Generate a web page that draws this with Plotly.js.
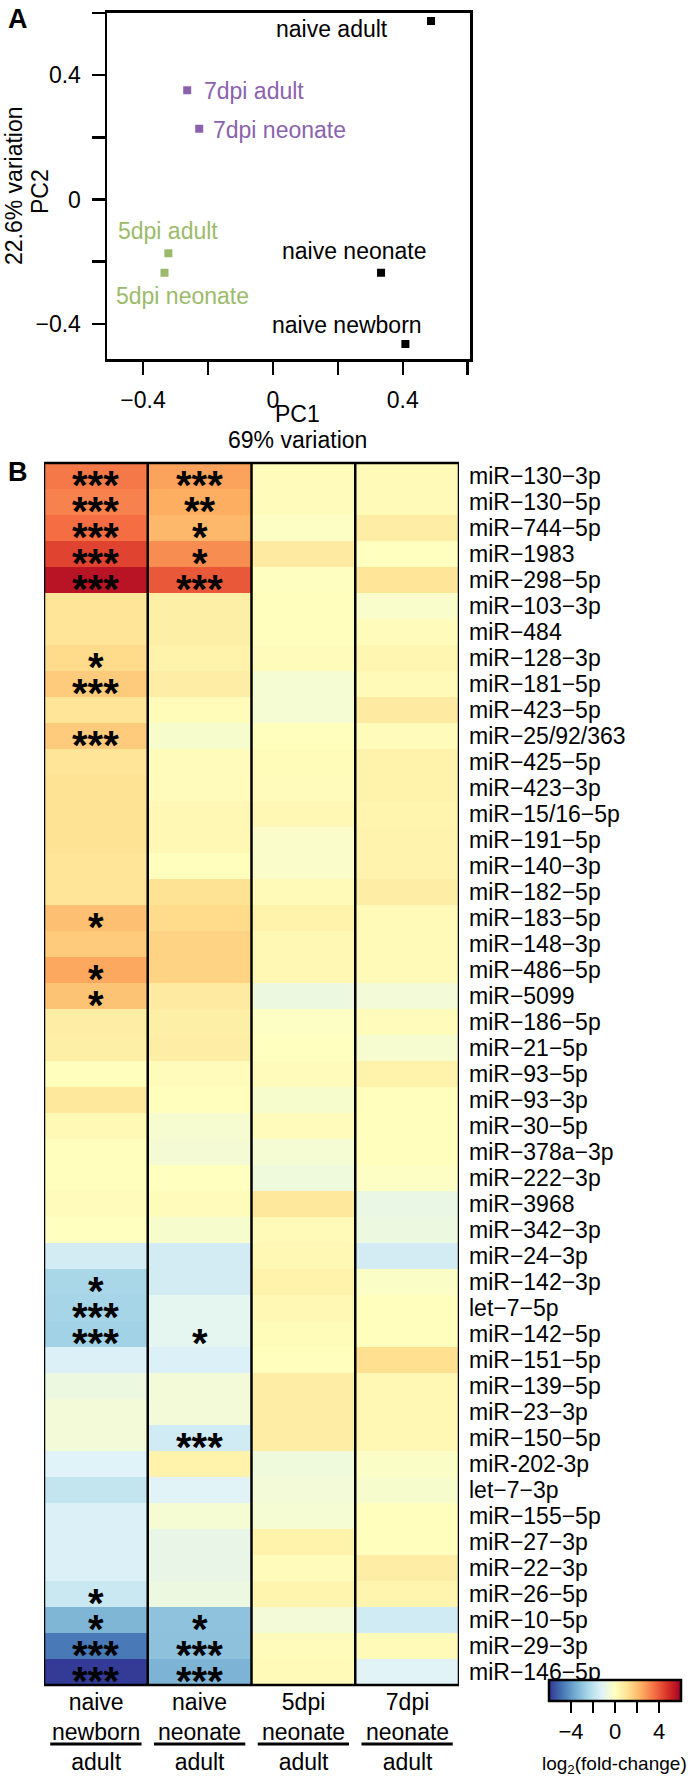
<!DOCTYPE html>
<html><head><meta charset="utf-8">
<script src="https://cdn.plot.ly/plotly-3.0.1.min.js"></script>
<style>html,body{margin:0;padding:0;background:#fff}#chart{width:693px;height:1779px}</style>
</head><body><div id="chart"></div>
<script>
const FONT = 'Liberation Sans, Arial, Helvetica, sans-serif';

// ---------- Panel A: PCA ----------
const pcaSamples = ['naive adult', '7dpi adult', '7dpi neonate', '5dpi adult', '5dpi neonate', 'naive neonate', 'naive newborn'];
const pc1 = [0.487, -0.264, -0.227, -0.322, -0.334, 0.333, 0.408];
const pc2 = [0.574, 0.351, 0.227, -0.173, -0.236, -0.236, -0.465];
const pcaGroup = ['naive', '7dpi', '7dpi', '5dpi', '5dpi', 'naive', 'naive'];
const pcaTicks = [-0.4, 0, 0.4];
const pcaTickText = ['\u22120.4', '0', '0.4'];
const pcaMinorStep = 0.2;

// label offsets (pixels) of each sample name relative to its point
const labelDX = [-99, 67, 80, 0, 18, -27, -58];
const labelDY = [-8, -1, -1, 22, -23, 22, 19];
const groupColor = {naive: '#000000', '7dpi': '#8b62ae', '5dpi': '#9bbb6b'};

// ---------- Panel B: heatmap ----------
const mirnas = ['miR\u2212130\u22123p', 'miR\u2212130\u22125p', 'miR\u2212744\u22125p', 'miR\u22121983', 'miR\u2212298\u22125p',
  'miR\u2212103\u22123p', 'miR\u2212484', 'miR\u2212128\u22123p', 'miR\u2212181\u22125p', 'miR\u2212423\u22125p',
  'miR\u221225/92/363', 'miR\u2212425\u22125p', 'miR\u2212423\u22123p', 'miR\u221215/16\u22125p', 'miR\u2212191\u22125p',
  'miR\u2212140\u22123p', 'miR\u2212182\u22125p', 'miR\u2212183\u22125p', 'miR\u2212148\u22123p', 'miR\u2212486\u22125p',
  'miR\u22125099', 'miR\u2212186\u22125p', 'miR\u221221\u22125p', 'miR\u221293\u22125p', 'miR\u221293\u22123p',
  'miR\u221230\u22125p', 'miR\u2212378a\u22123p', 'miR\u2212222\u22123p', 'miR\u22123968', 'miR\u2212342\u22123p',
  'miR\u221224\u22123p', 'miR\u2212142\u22123p', 'let\u22127\u22125p', 'miR\u2212142\u22125p', 'miR\u2212151\u22125p',
  'miR\u2212139\u22125p', 'miR\u221223\u22123p', 'miR\u2212150\u22125p', 'miR-202-3p', 'let\u22127\u22123p',
  'miR\u2212155\u22125p', 'miR\u221227\u22123p', 'miR\u221222\u22123p', 'miR\u221226\u22125p', 'miR\u221210\u22125p',
  'miR\u221229\u22123p', 'miR\u2212146\u22125p'];

const comparisonTop = ['naive', 'naive', '5dpi', '7dpi'];
const comparisonMid = ['newborn', 'neonate', 'neonate', 'neonate'];
const comparisonBottom = ['adult', 'adult', 'adult', 'adult'];

// log2(fold-change) per comparison
const naiveNewbornVsAdult = [3.4, 3.2, 3.6, 4.4, 5.5,
  1.0, 1.0, 1.3, 1.7, 1.0,
  1.7, 1.0, 1.1, 1.1, 1.1,
  1.0, 1.0, 2.0, 1.7, 2.5,
  1.9, 0.7, 0.6, 0.05, 0.9,
  0.25, 0.05, 0.05, 0.1, 0.0,
  -1.5, -2.45, -2.5, -2.6, -1.3,
  -0.7, -0.5, -0.5, -1.2, -1.85,
  -1.3, -1.3, -1.3, -1.7, -3.35,
  -4.7, -5.9];
const naiveNeonateVsAdult = [2.6, 2.4, 2.15, 3.0, 4.0,
  0.6, 0.6, 0.5, 0.65, 0.15,
  -0.3, 0.1, 0.1, 0.3, 0.3,
  0.05, 1.1, 1.3, 1.5, 1.5,
  0.8, 0.6, 0.7, 0.1, 0.05,
  -0.35, -0.45, 0.0, 0.1, -0.3,
  -1.5, -1.5, -1.0, -1.0, -1.3,
  -0.5, -0.5, -1.55, 0.5, -1.15,
  -0.4, -0.85, -0.85, -0.7, -3.0,
  -3.05, -3.4];
const dpi5NeonateVsAdult = [0.1, 0.1, -0.1, 0.8, -0.05,
  0.05, 0.05, 0.1, -0.4, -0.4,
  0.05, 0.15, 0.1, 0.3, -0.2,
  -0.2, 0.2, 0.5, 0.3, 0.3,
  -0.7, -0.1, 0.0, 0.1, -0.3,
  0.1, -0.4, -0.6, 0.9, 0.2,
  0.3, 0.5, 0.3, 0.15, 0.05,
  0.7, 0.7, 0.7, -0.6, -0.5,
  -0.4, 0.5, 0.1, 0.4, -0.5,
  0.1, 0.2];
const dpi7NeonateVsAdult = [0.2, 0.2, 0.7, 0.0, 1.0,
  -0.25, 0.1, 0.35, 0.2, 0.8,
  0.1, 0.5, 0.5, 0.4, 0.45,
  0.45, 0.7, 0.2, 0.2, 0.2,
  -0.5, 0.1, -0.35, 0.5, 0.05,
  0.05, 0.05, -0.1, -0.8, -0.7,
  -1.5, -0.15, 0.05, 0.05, 1.2,
  0.3, 0.3, 0.3, -0.15, -0.3,
  0.05, 0.05, 0.65, 0.4, -1.55,
  0.2, -1.15];

// significance marks
const sigNewborn = ['***', '***', '***', '***', '***',
  '', '', '*', '***', '',
  '***', '', '', '', '',
  '', '', '*', '', '*',
  '*', '', '', '', '',
  '', '', '', '', '',
  '', '*', '***', '***', '',
  '', '', '', '', '',
  '', '', '', '*', '*',
  '***', '***'];
const sigNeonate = ['***', '**', '*', '*', '***',
  '', '', '', '', '',
  '', '', '', '', '',
  '', '', '', '', '',
  '', '', '', '', '',
  '', '', '', '', '',
  '', '', '', '*', '',
  '', '', '***', '', '',
  '', '', '', '', '*',
  '***', '***'];

const colorbarTick0 = -4;
const colorbarTickStep = 2;
const colorbarLabelStep = 2;
const colorbarTitle = 'log<sub>2</sub>(fold-change)';

// RdYlBu (reversed: blue = low, red = high)
const rdylbu = ['#313695', '#4575b4', '#74add1', '#abd9e9', '#e0f3f8', '#ffffbf', '#fee090', '#fdae61', '#f46d43', '#d73027', '#a50026'];
const colorscale = rdylbu.map((c, i) => [i / (rdylbu.length - 1), c]);

// ---------- build ----------
const W = 693, H = 1779;
const px = v => v / W;
const py = v => (H - v) / H;
const LBL = 23;

const columns = [naiveNewbornVsAdult, naiveNeonateVsAdult, dpi5NeonateVsAdult, dpi7NeonateVsAdult];
const z = mirnas.map((m, r) => columns.map(col => col[r]));

const traces = [];
['naive', '7dpi', '5dpi'].forEach(g => {
  const idx = pcaSamples.map((s, i) => i).filter(i => pcaGroup[i] === g);
  traces.push({
    type: 'scatter', mode: 'markers', xaxis: 'x', yaxis: 'y',
    x: idx.map(i => pc1[i]), y: idx.map(i => pc2[i]), text: idx.map(i => pcaSamples[i]),
    marker: {symbol: 'square', size: 8, color: groupColor[g]},
    hoverinfo: 'text', showlegend: false
  });
});

traces.push({
  type: 'heatmap', xaxis: 'x2', yaxis: 'y2',
  x: [0, 1, 2, 3], y: mirnas, z: z,
  zmin: -5.99, zmax: 5.99, colorscale: colorscale,
  colorbar: {
    orientation: 'h', thickness: 21, thicknessmode: 'pixels',
    len: 132, lenmode: 'pixels',
    x: px(615), xanchor: 'center', y: py(1680), yanchor: 'top',
    xpad: 0, ypad: 0,
    outlinewidth: 2.5, outlinecolor: '#000',
    ticks: 'outside', ticklen: 11, tickwidth: 2, tickcolor: '#000',
    tickmode: 'linear', tick0: colorbarTick0, dtick: colorbarTickStep, ticklabelstep: colorbarLabelStep,
    tickfont: {family: FONT, size: 22, color: '#000'}
  }
});

const annotations = [];
pcaSamples.forEach((s, i) => {
  annotations.push({
    xref: 'x', yref: 'y', x: pc1[i], y: pc2[i], text: s, showarrow: false,
    xanchor: 'center', yanchor: 'middle',
    xshift: labelDX[i], yshift: labelDY[i],
    font: {family: FONT, size: LBL, color: groupColor[pcaGroup[i]]}
  });
});
const paperText = (x, y, text, size, extra) => Object.assign({xref: 'paper', yref: 'paper', x: px(x), y: py(y),
  xanchor: 'center', yanchor: 'middle', text: text, showarrow: false,
  font: {family: FONT, size: size, color: '#000'}}, extra || {});
annotations.push(paperText(297, 414, 'PC1', LBL));
annotations.push(paperText(297, 440, '69% variation', LBL));
annotations.push(paperText(14, 186, '22.6% variation', LBL, {textangle: -90}));
annotations.push(paperText(40, 192, 'PC2', LBL, {textangle: -90}));
annotations.push(paperText(18, 19, '<b>A</b>', 27));
annotations.push(paperText(18, 472, '<b>B</b>', 27));
annotations.push(paperText(689, 1765, colorbarTitle, 19, {xanchor: 'right'}));
[sigNewborn, sigNeonate].forEach((sig, c) => {
  sig.forEach((s, r) => {
    if (!s) return;
    annotations.push({xref: 'x2', yref: 'y2', x: c, y: mirnas[r], text: s, showarrow: false,
      xanchor: 'center', yanchor: 'middle',
      yshift: -9, font: {family: FONT, size: 40, color: '#000', weight: 'bold'}});
  });
});
comparisonTop.forEach((t, c) => {
  annotations.push({xref: 'x2', yref: 'paper', x: c, y: py(1732), xanchor: 'center', yanchor: 'middle',
    text: t + '<br>' + comparisonMid[c] + '<br>' + comparisonBottom[c],
    showarrow: false, font: {family: FONT, size: LBL, color: '#000'}});
});

const shapes = [];
shapes.push({type: 'rect', xref: 'x2', yref: 'y2 domain', x0: -0.5, x1: 3.5, y0: 0, y1: 1,
  line: {color: '#000', width: 2.5}});
[0.5, 1.5, 2.5].forEach(xv => shapes.push({type: 'line', xref: 'x2', yref: 'y2 domain', x0: xv, x1: xv, y0: 0, y1: 1,
  line: {color: '#000', width: 2.5}}));
comparisonTop.forEach((t, c) => shapes.push({type: 'line', xref: 'x2', yref: 'paper', x0: c - 0.44, x1: c + 0.44,
  y0: py(1744), y1: py(1744), line: {color: '#000', width: 3}}));

const pcaAxis = {
  tickmode: 'array', tickvals: pcaTicks, ticktext: pcaTickText,
  ticks: 'outside', ticklen: 13, tickwidth: 2.5, tickcolor: '#000',
  minor: {tick0: 0, dtick: pcaMinorStep, ticks: 'outside', ticklen: 13, tickwidth: 2.5, tickcolor: '#000', showgrid: false},
  showline: true, linewidth: 2.5, linecolor: '#000', mirror: true,
  showgrid: false, zeroline: false, ticklabelstandoff: 6,
  tickfont: {family: FONT, size: LBL, color: '#000'}
};

const layout = {
  width: W, height: H,
  margin: {l: 0, r: 0, t: 0, b: 0, autoexpand: false},
  paper_bgcolor: '#fff', plot_bgcolor: '#fff',
  font: {family: FONT, size: LBL, color: '#000'},
  showlegend: false,
  xaxis: Object.assign({domain: [px(107), px(470)], range: [-0.511, 0.607], anchor: 'y'}, pcaAxis),
  yaxis: Object.assign({domain: [py(359.3), py(12.7)], range: [-0.514, 0.6005], anchor: 'x'}, pcaAxis),
  xaxis2: {
    domain: [px(44), px(459)], range: [-0.5, 3.5], anchor: 'y2',
    showticklabels: false, ticks: '', showgrid: false, zeroline: false, showline: false
  },
  yaxis2: {
    domain: [py(1685), py(463)], type: 'category', anchor: 'x2',
    range: [mirnas.length - 0.5, -0.5],
    tickmode: 'array', tickvals: mirnas, ticktext: mirnas,
    side: 'right', ticks: '', showgrid: false, zeroline: false, showline: false,
    ticklabelstandoff: 9,
    tickfont: {family: FONT, size: LBL, color: '#000'}
  },
  annotations: annotations,
  shapes: shapes
};

Plotly.newPlot('chart', traces, layout, {displayModeBar: false, staticPlot: true});
</script>
</body></html>
